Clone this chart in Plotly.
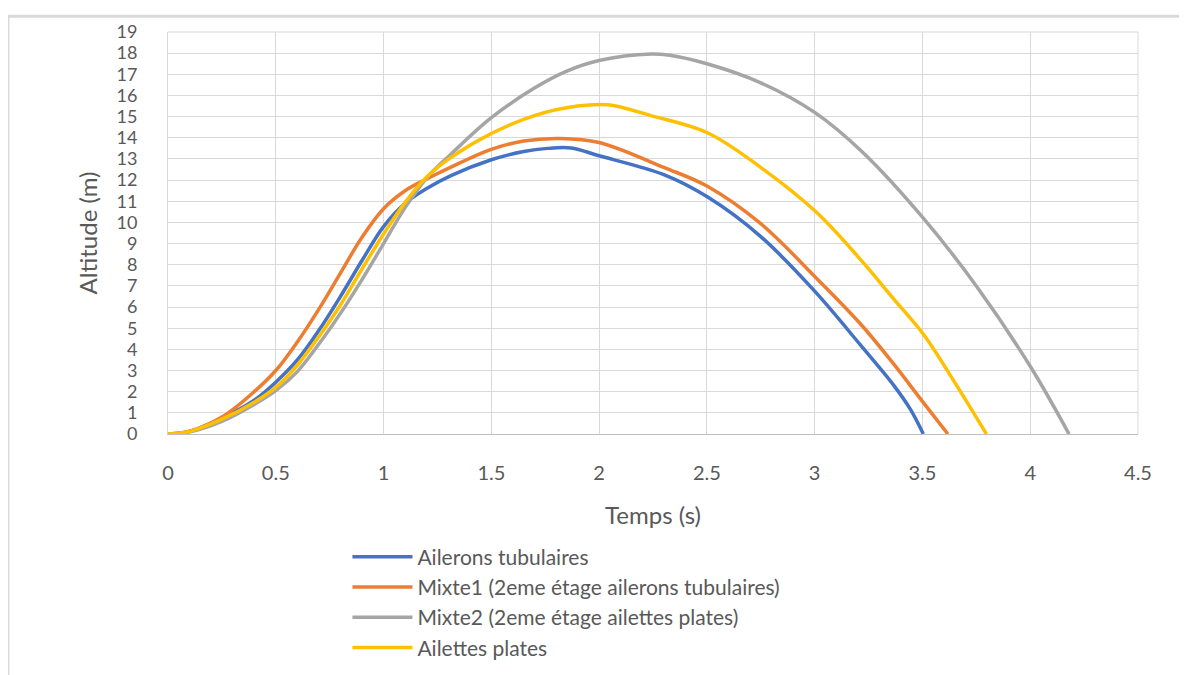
import plotly.graph_objects as go

# ──────────────────────────────────────────────
# Data
# ──────────────────────────────────────────────

series_names = [
    "Ailerons tubulaires",
    "Mixte1 (2eme étage ailerons tubulaires)",
    "Mixte2 (2eme étage ailettes plates)",
    "Ailettes plates",
]
series_colors = ["#4472C4", "#ED7D31", "#A5A5A5", "#FFC000"]

t_tubulaires = [0, 0.1, 0.25, 0.4, 0.5, 0.6, 0.7, 0.8, 0.9, 1.0, 1.1, 1.2, 1.31, 1.5,
                1.65, 1.76, 1.87, 2.0, 2.3, 2.5, 2.75, 3.0, 3.213, 3.367, 3.445, 3.504]
z_tubulaires = [0, 0.12, 0.75, 1.6, 2.45, 3.5, 4.9, 6.5, 8.2, 9.8, 10.9, 11.6, 12.2, 12.96,
                13.35, 13.5, 13.52, 13.15, 12.26, 11.22, 9.33, 6.75, 4.2, 2.3, 1.15, 0]

t_mixte1 = [0, 0.1, 0.25, 0.4, 0.5, 0.6, 0.7, 0.8, 0.9, 1.0, 1.1, 1.2, 1.31, 1.5,
            1.65, 1.82, 2.0, 2.3, 2.5, 2.75, 3.0, 3.213, 3.367, 3.507, 3.618]
z_mixte1 = [0, 0.13, 0.8, 2.0, 3.0, 4.35, 5.9, 7.6, 9.3, 10.65, 11.5, 12.05, 12.6, 13.45,
            13.85, 13.97, 13.78, 12.6, 11.72, 9.94, 7.45, 5.2, 3.3, 1.45, 0]

t_mixte2 = [0, 0.1, 0.25, 0.4, 0.5, 0.6, 0.7, 0.8, 0.9, 1.0, 1.1, 1.2, 1.31, 1.5, 1.7,
            1.85, 2.0, 2.24, 2.32, 2.5, 2.75, 3.0, 3.22, 3.5, 3.754, 4.0, 4.18]
z_mixte2 = [0, 0.1, 0.6, 1.4, 2.05, 2.95, 4.25, 5.7, 7.3, 9.0, 10.7, 12.1, 13.2, 14.95, 16.35,
            17.15, 17.65, 17.96, 17.91, 17.5, 16.6, 15.2, 13.34, 10.25, 6.94, 3.2, 0]

t_plates = [0, 0.1, 0.25, 0.4, 0.5, 0.6, 0.7, 0.8, 0.9, 1.0, 1.1, 1.2, 1.31, 1.5, 1.7,
            1.9, 2.04, 2.24, 2.5, 2.754, 3.006, 3.213, 3.367, 3.507, 3.646, 3.797]
z_plates = [0, 0.12, 0.7, 1.5, 2.2, 3.25, 4.6, 6.1, 7.8, 9.45, 10.95, 12.15, 13.05, 14.2, 15.05,
            15.5, 15.56, 15.05, 14.25, 12.57, 10.5, 8.24, 6.38, 4.68, 2.5, 0]

all_t = [t_tubulaires, t_mixte1, t_mixte2, t_plates]
all_z = [z_tubulaires, z_mixte1, z_mixte2, z_plates]

FONT = "Lato, 'Liberation Sans', sans-serif"
TXT = "#595959"
GRID = "#D9D9D9"

fig = go.Figure()
for name, color, t, z in zip(series_names, series_colors, all_t, all_z):
    fig.add_trace(go.Scatter(
        x=t, y=z, name=name, mode="lines",
        line=dict(color=color, width=3.5, shape="spline", smoothing=1.0),
    ))

fig.update_layout(
    width=1187, height=675,
    paper_bgcolor="white",
    plot_bgcolor="white",
    font=dict(family=FONT, color=TXT, size=20),
    margin=dict(l=160, r=57, t=17, b=249),
    xaxis=dict(
        range=[0, 4.5], dtick=0.5, tick0=0,
        showgrid=True, gridcolor=GRID, gridwidth=1,
        showline=True, linecolor="#BFBFBF", linewidth=1, mirror=False,
        zeroline=False, ticks="", ticklabelstandoff=21,
        tickfont=dict(size=20, color=TXT),
        title=dict(text="Temps (s)", font=dict(size=24, color=TXT), standoff=24),
    ),
    yaxis=dict(
        range=[0, 19], dtick=1, tick0=0,
        showgrid=True, gridcolor=GRID, gridwidth=1,
        showline=True, linecolor=GRID, linewidth=1,
        zeroline=False, ticks="", ticklabelstandoff=26,
        tickfont=dict(size=18, color=TXT),
        title=dict(text="Altitude (m)", font=dict(size=24, color=TXT), standoff=12),
    ),
    showlegend=True,
    legend=dict(
        x=0.185, y=-0.255, xanchor="left", yanchor="top",
        orientation="v", bgcolor="rgba(0,0,0,0)",
        font=dict(size=21, color=TXT), tracegroupgap=0,
        itemwidth=60,
    ),
)

# right and top edges of the plot area
fig.add_shape(type="line", xref="paper", yref="paper", x0=1, x1=1, y0=0, y1=1,
              line=dict(color=GRID, width=1))
fig.add_shape(type="line", xref="paper", yref="paper", x0=0, x1=1, y0=1, y1=1,
              line=dict(color=GRID, width=1))

# chart frame (left and top border, as in the source screenshot)
fig.add_shape(type="line", xref="paper", yref="paper", x0=-0.165, x1=-0.165, y0=1.039, y1=-0.62,
              line=dict(color=GRID, width=3))
fig.add_shape(type="line", xref="paper", yref="paper", x0=-0.165, x1=1.06, y0=1.039, y1=1.039,
              line=dict(color=GRID, width=3))

fig.write_html("out.html")
